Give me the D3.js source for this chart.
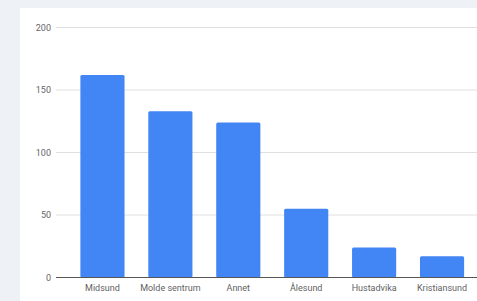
<!DOCTYPE html>
<html>
<head>
<meta charset="utf-8">
<script src="https://cdn.jsdelivr.net/npm/d3@7"></script>
<style>
  html, body { margin: 0; padding: 0; background: #eef2f6; }
  svg { display: block; font-family: Roboto, Arial, sans-serif; }
</style>
</head>
<body>
<svg id="chart" width="477" height="301"></svg>
<script>
const categories = ["Midsund", "Molde sentrum", "Annet", "Ålesund", "Hustadvika", "Kristiansund"];
const values = [162, 133, 124, 55, 24, 17];
const yTicks = [0, 50, 100, 150, 200];

const svg = d3.select("#chart");

// white card
svg.append("rect")
  .attr("x", 20)
  .attr("y", 8)
  .attr("width", 457)
  .attr("height", 293)
  .attr("fill", "#fff");

const x = d3.scaleBand()
  .domain(categories)
  .range([68.5, 476])
  .paddingInner(0.35)
  .paddingOuter(0.175);

const y = d3.scaleLinear()
  .domain([0, 200])
  .range([277.5, 27.5]);

// gridlines + tick labels
const grid = svg.append("g").attr("class", "grid");
grid.selectAll("line")
  .data(yTicks.filter(d => d > 0))
  .enter()
  .append("line")
  .attr("x1", 56)
  .attr("x2", 477)
  .attr("y1", d => y(d))
  .attr("y2", d => y(d))
  .attr("stroke", "#e0e0e0")
  .attr("stroke-width", 1);

grid.selectAll("text")
  .data(yTicks)
  .enter()
  .append("text")
  .attr("x", 51)
  .attr("y", d => y(d))
  .attr("dy", "0.35em")
  .attr("text-anchor", "end")
  .attr("font-size", 9)
  .attr("fill", "#666")
  .text(d => d);

// bars
svg.append("g")
  .selectAll("rect")
  .data(categories)
  .enter()
  .append("rect")
  .attr("x", d => x(d))
  .attr("width", x.bandwidth())
  .attr("y", (d, i) => y(values[i]))
  .attr("height", (d, i) => y(0) - y(values[i]))
  .attr("rx", 1.5)
  .attr("fill", "#4285f4");

// baseline
svg.append("line")
  .attr("x1", 56)
  .attr("x2", 477)
  .attr("y1", y(0))
  .attr("y2", y(0))
  .attr("stroke", "#555")
  .attr("stroke-width", 1);

// category labels
svg.append("g")
  .selectAll("text")
  .data(categories)
  .enter()
  .append("text")
  .attr("x", d => x(d) + x.bandwidth() / 2)
  .attr("y", 291)
  .attr("text-anchor", "middle")
  .attr("font-size", 9)
  .attr("fill", "#5f5f5f")
  .text(d => d);
</script>
</body>
</html>
